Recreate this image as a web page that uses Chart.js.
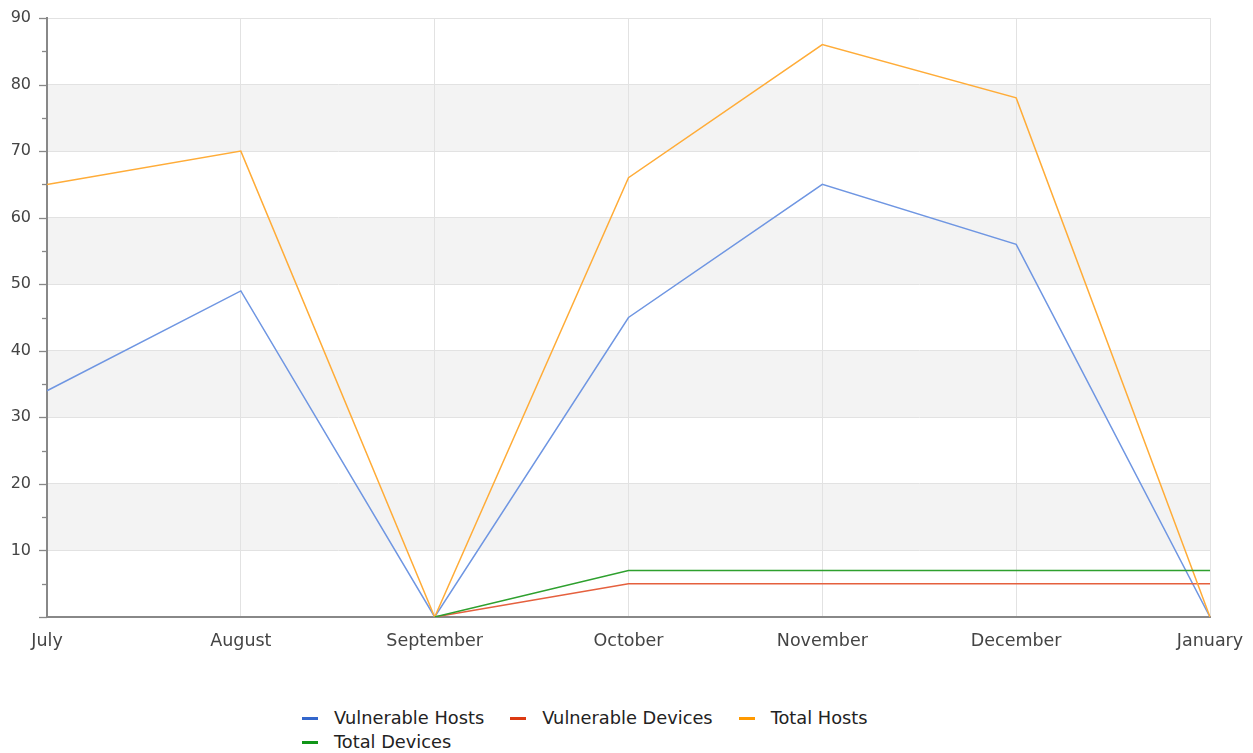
<!DOCTYPE html>
<html>
<head>
<meta charset="utf-8">
<script src="https://cdn.jsdelivr.net/npm/chart.js@4/dist/chart.umd.min.js"></script>
<style>
  body { margin: 0; background: #fff; font-family: "DejaVu Sans", sans-serif; overflow: hidden; }
  #wrap { position: relative; width: 1253px; height: 660px; }
  #legend { position: absolute; left: 302px; top: 706px; width: 640px; font-size: 17.8px; line-height: 24px; color: #222; }
  .item { display: inline-flex; align-items: center; height: 24px; margin-right: 26px; vertical-align: top; }
  .mark { width: 16px; height: 3px; margin-right: 16px; }
</style>
</head>
<body>
<div id="wrap"><canvas id="myChart"></canvas></div>
<div id="legend"></div>
<script>
const months = ["July", "August", "September", "October", "November", "December", "January"];
const vulnerableHosts = [34, 49, 0, 45, 65, 56, 0];
const vulnerableDevices = [null, null, 0, 5, 5, 5, 5];
const totalHosts = [65, 70, 0, 66, 86, 78, 0];
const totalDevices = [null, null, 0, 7, 7, 7, 7];
const seriesNames = ["Vulnerable Hosts", "Vulnerable Devices", "Total Hosts", "Total Devices"];
const lineColors = ["#6f96e2", "#e5603e", "#ffac38", "#2ea02e"];
const legendColors = ["#3366cc", "#dc3912", "#ff9900", "#109618"];

// grey bands behind 10-20, 30-40, 50-60, 70-80
const bands = {
    id: 'bands',
    beforeDraw(chart) {
        const { ctx, chartArea, scales: { y } } = chart;
        ctx.save();
        ctx.fillStyle = '#f3f3f3';
        for (let v = 10; v < 90; v += 20) {
            const top = y.getPixelForValue(v + 10);
            const bottom = y.getPixelForValue(v);
            ctx.fillRect(chartArea.left, top, chartArea.right - chartArea.left, bottom - top);
        }
        ctx.restore();
    }
};

// y axis tick marks, long at tens, short at fives
const yTicks = {
    id: 'yTicks',
    afterDraw(chart) {
        const { ctx, chartArea, scales: { y } } = chart;
        ctx.save();
        ctx.strokeStyle = '#888';
        ctx.lineWidth = 1.3;
        y.ticks.forEach(t => {
            const py = Math.round(y.getPixelForValue(t.value)) + 0.5;
            const len = t.value % 10 === 0 ? 8 : 5;
            ctx.beginPath();
            ctx.moveTo(chartArea.left - len, py);
            ctx.lineTo(chartArea.left, py);
            ctx.stroke();
        });
        ctx.restore();
    }
};

const ctx = document.getElementById("myChart").getContext("2d");
new Chart(ctx, {
    type: "line",
    data: {
        labels: months,
        datasets: [vulnerableHosts, vulnerableDevices, totalHosts, totalDevices].map((d, i) => ({
            label: seriesNames[i],
            data: d,
            borderColor: lineColors[i],
            borderWidth: 1.5,
            pointRadius: 0,
            tension: 0,
            fill: false,
            order: [4, 3, 2, 1][i]
        }))
    },
    options: {
        responsive: true,
        maintainAspectRatio: false,
        animation: false,
        layout: { padding: { top: 18, right: 43, left: 0, bottom: 0 } },
        plugins: { legend: { display: false }, tooltip: { enabled: false } },
        scales: {
            x: {
                offset: false,
                border: { color: '#888', width: 2 },
                grid: { color: '#e2e2e2', drawTicks: false },
                ticks: { color: '#444', font: { family: 'DejaVu Sans', size: 17.5 }, padding: 14, maxRotation: 0, autoSkip: false },
                afterFit(scale) { scale.height = 43; scale.paddingLeft = 0; scale.paddingRight = 0; }
            },
            y: {
                min: 0,
                max: 90,
                border: { color: '#888', width: 2 },
                grid: {
                    drawTicks: false,
                    color: c => (c.tick && c.tick.value % 10 === 0 && c.tick.value > 0) ? '#e2e2e2' : 'rgba(0,0,0,0)'
                },
                ticks: {
                    stepSize: 5,
                    padding: 16,
                    color: '#444',
                    font: { family: 'DejaVu Sans', size: 16 },
                    callback: v => (v % 10 === 0 && v > 0) ? v : ''
                },
                afterFit(scale) { scale.width = 47; scale.paddingTop = 0; scale.paddingBottom = 0; }
            }
        }
    },
    plugins: [bands, yTicks]
});

const legend = document.getElementById('legend');
seriesNames.forEach((name, i) => {
    const item = document.createElement('span');
    item.className = 'item';
    item.innerHTML = '<span class="mark" style="background:' + legendColors[i] + '"></span>' + name;
    legend.appendChild(item);
});
</script>
</body>
</html>
